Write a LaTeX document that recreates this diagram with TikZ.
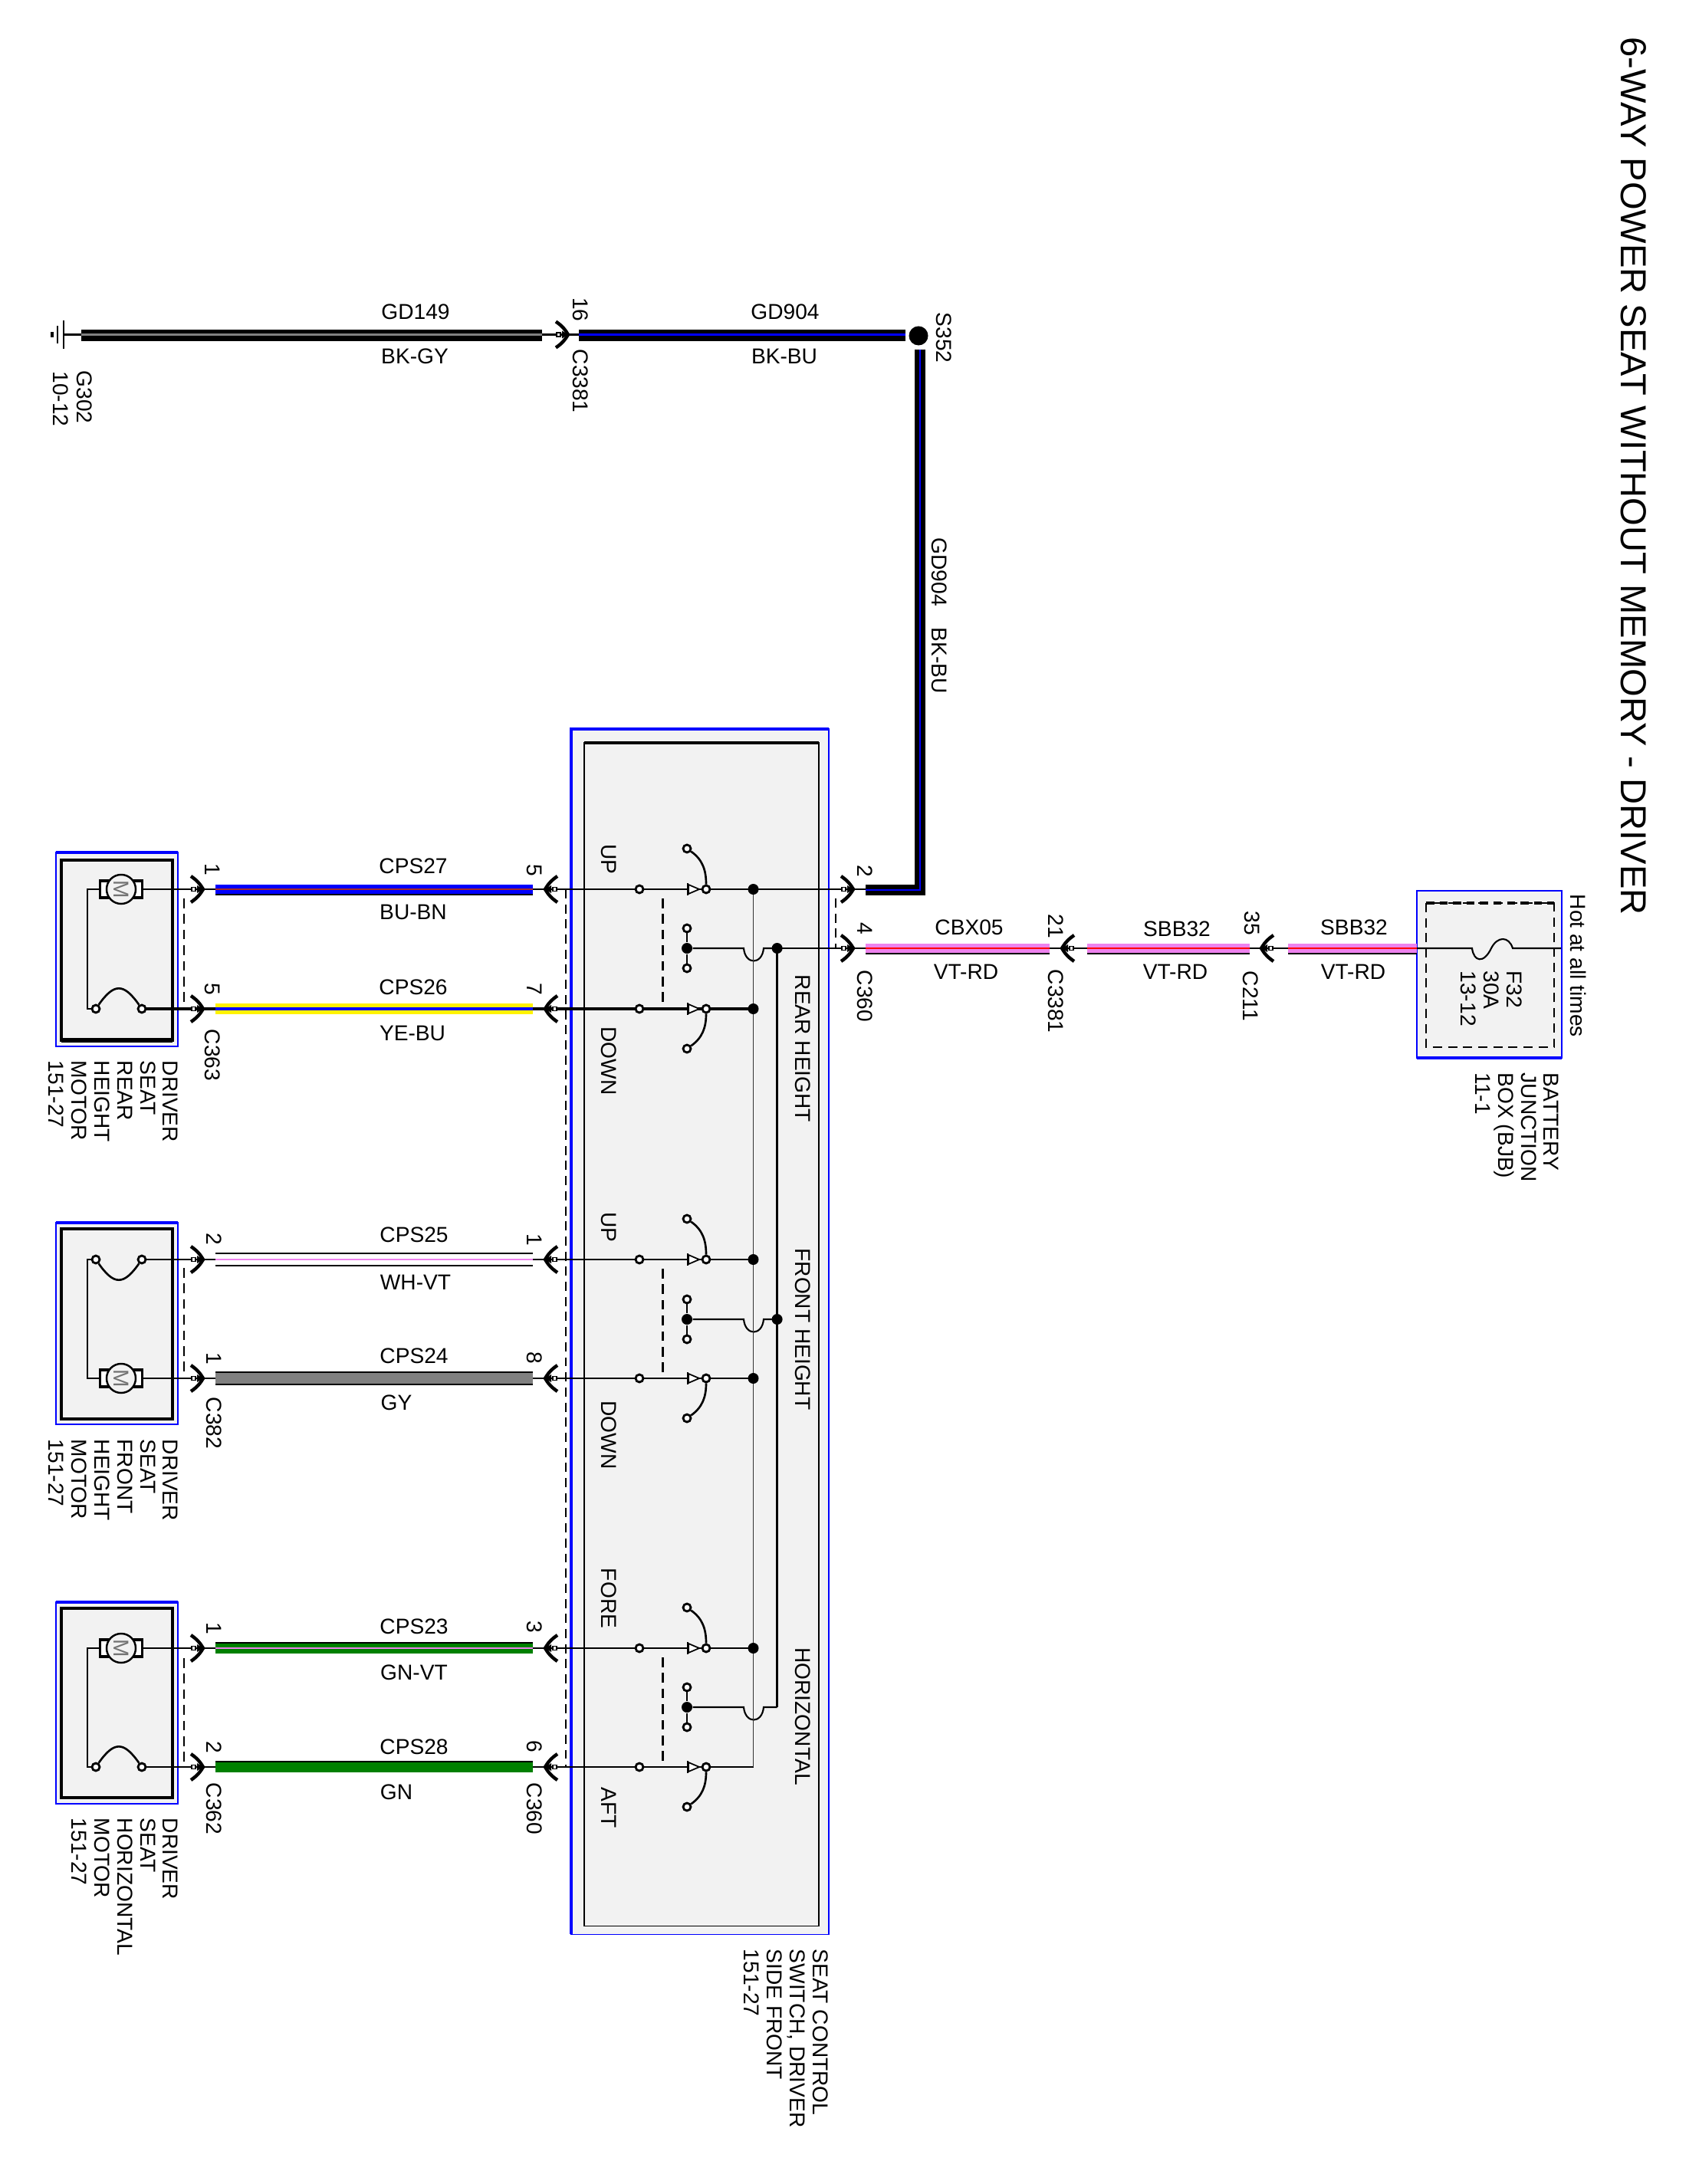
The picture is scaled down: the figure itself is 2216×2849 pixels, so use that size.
\documentclass[tikz,border=0pt]{standalone}
\usepackage{fontspec}
\setmainfont{Liberation Sans}

\definecolor{panel}{HTML}{F2F2F2}
\definecolor{vt}{HTML}{EE82EE}
\definecolor{bn}{HTML}{A52A2A}
\definecolor{gn}{HTML}{008000}
\definecolor{gy}{HTML}{808080}

\tikzset{
  lab/.style={font=\fontsize{8}{8.5}\selectfont, inner sep=0pt},
  rot/.style={lab, rotate=-90, anchor=west},
  block/.style={lab, rotate=-90, anchor=north west, align=left},
  outline/.style={draw=blue, fill=panel, line width=.55pt},
  casing/.style={draw=black, line width=1pt},
  thin wire/.style={line width=.6pt},
  harness/.style={line width=3.7pt},
  stripe/.style={line width=.75pt},
  edgeline/.style={line width=.6pt, black},
  ganged/.style={line width=.6pt, dash pattern=on 3.6pt off 2.2pt},
  hairdash/.style={line width=.35pt, dash pattern=on 3.4pt off 2.2pt},
  term/.style={circle, draw, fill=white, line width=.8pt, inner sep=0pt, minimum size=.1cm},
  jct/.style={circle, fill=black, inner sep=0pt, minimum size=.14cm},
  mate/.pic={
    \draw[line width=1.25pt] (-16,-17) .. controls (-7,-11) and (-3,-5) .. (0,0) .. controls (-3,5) and (-7,11) .. (-16,17);
    \fill (-8,-5) -- (0,0) -- (-8,5) -- cycle;
    \draw[fill=white, line width=.4pt] (-15,-2.5) rectangle (-10,2.5);
  }
}

\newcommand{\wirerun}[4]{\draw[harness,#3] (#1) -- (#2); \draw[stripe,#4] (#1) -- (#2);}
\newcommand{\wireedge}[3]{\draw[edgeline] ([yshift=#3]#1) -- ([yshift=#3]#2);}

\begin{document}
\begin{tikzpicture}[x=.01cm, y=-.01cm]
        \useasboundingbox (0,0) rectangle (2216,2849);
        \node[lab, font=\fontsize{13.4}{15}\selectfont, rotate=-90, anchor=west] (title) at (2131,48) {6-WAY POWER SEAT WITHOUT MEMORY - DRIVER};

        % panels
        \node[outline, minimum width=3.36cm, minimum height=15.72cm, inner sep=0pt] (switch) at (913,1737) {};
        \draw[blue, line width=1pt] (745,2523) -- (745,951) -- (1081,951);
        \node[draw=black, line width=.5pt, minimum width=3.06cm, minimum height=15.43cm, inner sep=0pt] (swcase) at (915,1740.5) {};
        \draw[line width=1.1pt] (762,969) -- (1068,969);
        \node[outline, minimum width=1.89cm, minimum height=2.18cm, inner sep=0pt] (bjb) at (1942.5,1271) {};
        \draw[blue, line width=1.1pt] (1848,1380) -- (2037,1380);
        \draw[line width=.4pt, dash pattern=on 3.4pt off 2.2pt] (1860,1178) rectangle (2027,1366);
        \draw[line width=1.1pt, dash pattern=on 3pt off 2pt] (1860,1178) -- (2027,1178);

        % ground and S352
        \coordinate (gnda) at (83,436.5);
        \coordinate (gndb) at (106,436.5);
        \coordinate (gdla) at (707,436.5);
        \coordinate (gdlb) at (755,436.5);
        \coordinate (gdlc) at (1181,436.5);
        \node[circle, fill=black, inner sep=0pt, minimum size=.25cm] (s352) at (1198,438) {};
        \coordinate (gdld) at (1200,456);
        \coordinate (gdle) at (1200,1161);
        \coordinate (gdlf) at (1129,1161);
        \coordinate (gdlg) at (1129,1160);
        \draw[thin wire] (gnda) -- (gndb);
        \draw[thin wire] (gdla) -- (gdlb);
        \draw[line width=.6pt] (83,418) -- (83,455);
        \draw[line width=.6pt] (75,425) -- (75,448);
        \draw[line width=1pt] (68,433) -- (68,440);
        \wirerun{gndb}{gdla}{black}{gy,line width=.7pt}
        \wireedge{gndb}{gdla}{-2pt}
        \wirerun{gdlb}{gdlc}{black}{blue,line width=.7pt}
        \wireedge{gdlb}{gdlc}{-2pt}
        \draw[harness,black,line width=4pt] (gdld) -- (gdle) -- (gdlf);
        \draw[stripe,blue,line width=.8pt] (gdld) -- (gdle) -- (gdlf);
        \pic at (741,436.5) {mate};

        % harness rows
        \foreach \nm/\yy in {rup/1160, rdn/1316, fup/1643, fdn/1798, hup/2150, hdn/2305} {
                \coordinate (\nm l) at (281,\yy);
                \coordinate (\nm r) at (695,\yy);
        }

        % motors
        \foreach \nm/\ym/\yc/\rmot/\rcon/\wt/\ao/\ai/\boxa/\boxb/\boxc/\boxd in {
                r/1160/1316/rup/rdn/.95pt/55/125/1112/1365/1122/1357,
                f/1798/1643/fdn/fup/.6pt/-55/-125/1595/1858/1603/1851,
                h/2150/2305/hup/hdn/.6pt/55/125/2090/2353/2098/2345} {
                \draw[outline] (73,\boxa) rectangle (232,\boxb);
                \draw[blue, line width=.9pt] (73,\boxa) -- (232,\boxa);
                \draw[casing] (80,\boxc) rectangle (225,\boxd);
                \node[draw, line width=.9pt, fill=white, inner sep=0pt, minimum width=.55cm, minimum height=.22cm] (\nm brush) at (158,\ym) {};
                \node[circle, draw, line width=.7pt, fill=panel, inner sep=0pt, minimum size=.38cm, lab, rotate=-90, text=black!55] (\nm motor) at (158,\ym) {M};
                \node[term] (\nm ca) at (125,\yc) {};
                \node[term] (\nm cb) at (185,\yc) {};
                \draw[thin wire] (\nm ca) -- (114,\yc) -- (114,\ym) -- (\nm brush.west);
                \draw[thin wire] (\nm brush.east) -- (\rmot l);
                \draw[line width=\wt] (\nm cb) -- (\rcon l);
                \draw[line width=.75pt] (\nm ca) to[out=\ao, in=\ai, looseness=1.7] (\nm cb);
        }
        \draw[line width=1.5pt] (80,1357) -- (225,1357);
        \foreach \da/\db in {1172/1316, 1654/1798, 2163/2305}
                \draw[ganged] (240,\da) -- (240,\db);
        \draw[hairdash] (738,1160) -- (738,2305);
        \draw[hairdash] (1090,1172) -- (1090,1237);

        % switch sections
        \foreach \nm/\yup/\ymid/\ydown/\rup/\rdown/\wt in {
                a/1160/1237/1316/rup/rdn/.95pt,
                b/1643/1721/1798/fup/fdn/.6pt,
                c/2150/2227/2305/hup/hdn/.6pt} {
                \coordinate (\nm upbus) at (982.5,\yup);
                \coordinate (\nm downbus) at (982.5,\ydown);
                \coordinate (\nm bus) at (1013.6,\ymid);
                \node[term] (\nm upin) at (834,\yup) {};
                \node[term] (\nm downin) at (834,\ydown) {};
                \node[term] (\nm upco) at (921,\yup) {};
                \node[term] (\nm downco) at (921,\ydown) {};
                \node[term] (\nm uparm) at (896,\yup-53) {};
                \node[term] (\nm downarm) at (896,\ydown+52) {};
                \node[jct] (\nm mid) at (896,\ymid) {};
                \node[term] (\nm midup) at (896,\ymid-26) {};
                \node[term] (\nm middn) at (896,\ymid+26) {};
                \draw[thin wire] (\rup r) -- (\nm upin) -- (\nm upco) -- (\nm upbus);
                \draw[line width=\wt] (\rdown r) -- (\nm downin) -- (\nm downco) -- (\nm downbus);
                \draw[line width=.75pt] (\nm upco) to[out=90, in=-35] (\nm uparm);
                \draw[line width=.75pt] (\nm downco) to[out=-90, in=35] (\nm downarm);
                \draw[ganged, line width=.85pt] (864,\yup+12) -- (864,\ydown);
                \draw[line width=.75pt] (\nm midup) -- (\nm mid) -- (\nm middn);
                \draw[thin wire] (\nm mid) -- (970,\ymid) .. controls (972,\ymid+22) and (994,\ymid+22) .. (996,\ymid) -- (\nm bus);
                \foreach \yt in {\yup,\ydown} {
                        \draw[line width=.5pt, fill=white] (898,\yt-6) -- (912,\yt) -- (898,\yt+6) -- cycle;
                        \draw[line width=.7pt] (897,\yt-8) -- (897,\yt+8);
                }
        }
        \draw[line width=.5pt, black!80] (aupbus) -- (cdownbus);
        \draw[line width=.95pt] (abus) -- (cbus);
        \foreach \jn in {aupbus,adownbus,bupbus,bdownbus,cupbus,abus,bbus}
                \node[jct] (\jn dot) at (\jn) {};

        % feed to battery junction box
        \coordinate (cbxa) at (1129,1237);
        \coordinate (cbxb) at (1369,1237);
        \coordinate (sbba) at (1418,1237);
        \coordinate (sbbb) at (1630,1237);
        \coordinate (sbbc) at (1680,1237);
        \coordinate (sbbd) at (1848,1237);
        \coordinate (fusea) at (1920,1237);
        \coordinate (fuseb) at (1973,1237);
        \coordinate (fusec) at (2036,1237);
        \draw[thin wire] (aupbus) -- (gdlg);
        \draw[thin wire] (abus) -- (cbxa);
        \draw[thin wire] (cbxb) -- (sbba);
        \draw[thin wire] (sbbb) -- (sbbc);
        \draw[thin wire] (sbbd) -- (fusea) .. controls (1922,1254) and (1935,1258) .. (1945,1237) .. controls (1953,1221) and (1968,1221) .. (fuseb) -- (fusec);
        \wirerun{cbxa}{cbxb}{vt}{red}
        \wirerun{sbba}{sbbb}{vt}{red}
        \wirerun{sbbc}{sbbd}{vt}{red}
        \wireedge{cbxa}{cbxb}{-2pt}
        \wireedge{sbba}{sbbb}{-2pt}
        \wireedge{sbbc}{sbbd}{-2pt}

        % coloured wires
        \wirerun{rupl}{rupr}{blue}{bn}
        \wireedge{rupl}{rupr}{-2pt}
        \wirerun{rdnl}{rdnr}{yellow,line width=4.1pt}{blue,line width=1.4pt}
        \wirerun{fupl}{fupr}{white}{vt}
        \wireedge{fupl}{fupr}{-2.2pt}
        \wireedge{fupl}{fupr}{2.2pt}
        \wirerun{fdnl}{fdnr}{gy,line width=4.2pt}{gy}
        \wireedge{fdnl}{fdnr}{-2.3pt}
        \wireedge{fdnl}{fdnr}{2.3pt}
        \wirerun{hupl}{hupr}{gn}{vt}
        \wireedge{hupl}{hupr}{2pt}
        \wirerun{hdnl}{hdnr}{gn}{gn}
        \wireedge{hdnl}{hdnr}{2pt}

        % connector chevrons
        \foreach \yy in {1160,1316,1643,1798,2150,2305} {
                \pic at (265,\yy) {mate};
                \pic[xscale=-1] at (711,\yy) {mate};
        }
        \pic at (1113,1160) {mate};
        \pic at (1113,1237) {mate};
        \pic[xscale=-1] at (1385,1237) {mate};
        \pic[xscale=-1] at (1645,1237) {mate};

        % wire labels
        \node[lab] (nGDa) at (542,407) {GD149};
        \node[lab] (cGDa) at (541,465) {BK-GY};
        \node[lab] (nGDb) at (1024,407) {GD904};
        \node[lab] (cGDb) at (1023,465) {BK-BU};
        \node[rot] (nGDc) at (1225,701) {GD904};
        \node[rot] (cGDc) at (1225,818) {BK-BU};
        \foreach \nm/\xx/\ya/\txa/\xb/\yb/\txb in {
                a/539/1130/CPS27/539/1190/BU-BN,
                b/539/1288/CPS26/538/1348/YE-BU,
                c/540/1611/CPS25/542/1673/WH-VT,
                d/540/1769/CPS24/517/1830/GY,
                e/540/2122/CPS23/540/2182/GN-VT,
                f/540/2279/CPS28/517/2338/GN} {
                \node[lab] (n\nm) at (\xx,\ya) {\txa};
                \node[lab] (c\nm) at (\xb,\yb) {\txb};
        }
        \node[lab] (nCBX) at (1264,1210) {CBX05};
        \node[lab] (cCBX) at (1260,1268) {VT-RD};
        \node[lab] (nSBBa) at (1535,1212) {SBB32};
        \node[lab] (cSBBa) at (1533,1268) {VT-RD};
        \node[lab] (nSBBb) at (1766,1210) {SBB32};
        \node[lab] (cSBBb) at (1765,1268) {VT-RD};

        % pins and connector names
        \foreach \xx/\yy/\tx/\nm in {
                757/404/16/pa, 277/1134/1/pb, 277/1290/5/pc, 697/1135/5/pd, 697/1290/7/pe,
                1128/1136/2/pf, 1128/1211/4/pg, 1377/1208/21/ph, 1633/1204/35/pi,
                279/1616/2/pj, 279/1772/1/pk, 697/1617/1/pl, 697/1771/8/pm,
                279/2124/1/pn, 279/2279/2/po, 697/2122/3/pp, 697/2278/6/pq}
                \node[lab, rotate=-90] (\nm) at (\xx,\yy) {\tx};
        \foreach \xx/\yy/\tx/\nm in {
                757/455/C3381/ca, 1231/407/S352/cb, 110/483/G302/cc, 79/484/10-12/cd,
                277/1342/C363/ce, 1128/1265/C360/cf, 1377/1264/C3381/cg, 1631/1266/C211/ch,
                279/1822/C382/ci, 279/2325/C362/cj, 697/2325/C360/ck, 2059/1166/Hot at all times/cl}
                \node[rot] (\nm) at (\xx,\yy) {\tx};

        % switch texts
        \foreach \yy/\tx/\nm in {1121/UP/ta, 1384/DOWN/tb, 1601/UP/tc, 1872/DOWN/td, 2085/FORE/te, 2358/AFT/tf}
                \node[lab, rotate=-90] (\nm) at (794,\yy) {\tx};
        \foreach \yy/\tx/\nm in {1368/REAR HEIGHT/tg, 1734/FRONT HEIGHT/th, 2239/HORIZONTAL/ti}
                \node[lab, rotate=-90] (\nm) at (1047,\yy) {\tx};

        % component names
        \node[block] (rname) at (233,1383) {DRIVER\\SEAT\\REAR\\HEIGHT\\MOTOR\\151-27};
        \node[block] (fname) at (233,1877) {DRIVER\\SEAT\\FRONT\\HEIGHT\\MOTOR\\151-27};
        \node[block] (hname) at (233,2371) {DRIVER\\SEAT\\HORIZONTAL\\MOTOR\\151-27};
        \node[block] (swname) at (1081,2542) {SEAT CONTROL\\SWITCH, DRIVER\\SIDE FRONT\\151-27};
        \node[block] (bjbname) at (2034,1399) {BATTERY\\JUNCTION\\BOX (BJB)\\11-1};
        \node[block] (fusename) at (1986,1266) {F32\\30A\\13-12};
\end{tikzpicture}
\end{document}
